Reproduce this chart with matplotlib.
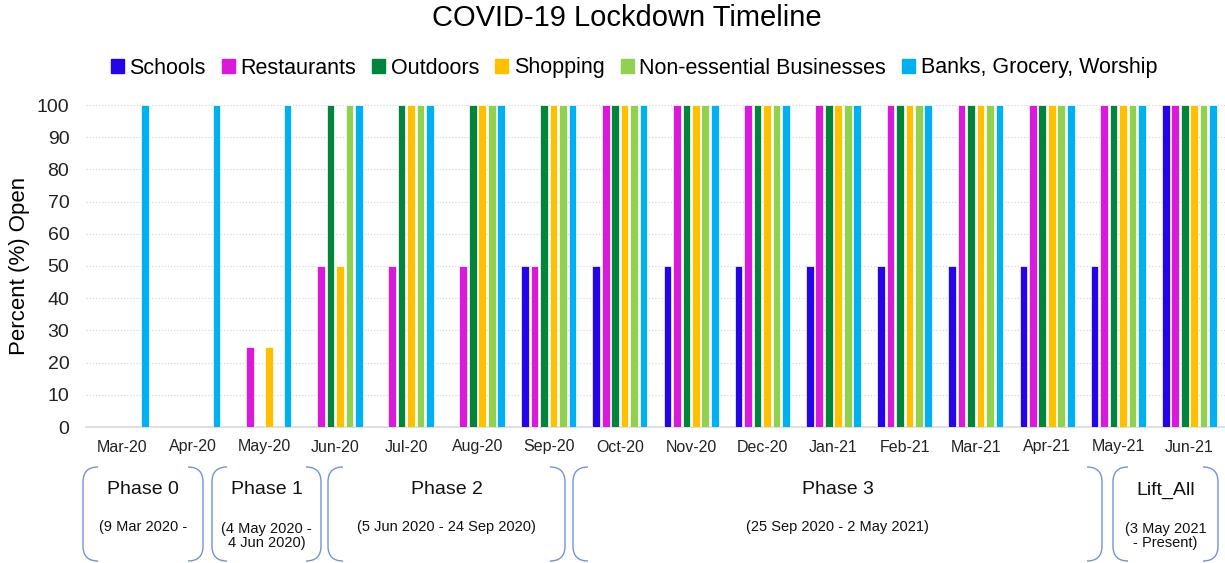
import matplotlib.pyplot as plt
import numpy as np
from matplotlib.path import Path
import matplotlib.patches as mpatches

plt.rcParams['font.family'] = ['Liberation Sans', 'DejaVu Sans']

months = ['Mar-20', 'Apr-20', 'May-20', 'Jun-20', 'Jul-20', 'Aug-20', 'Sep-20', 'Oct-20',
          'Nov-20', 'Dec-20', 'Jan-21', 'Feb-21', 'Mar-21', 'Apr-21', 'May-21', 'Jun-21']
schools     = [0, 0, 0, 0, 0, 0, 50, 50, 50, 50, 50, 50, 50, 50, 50, 100]
restaurants = [0, 0, 25, 50, 50, 50, 50, 100, 100, 100, 100, 100, 100, 100, 100, 100]
outdoors    = [0, 0, 0, 100, 100, 100, 100, 100, 100, 100, 100, 100, 100, 100, 100, 100]
shopping    = [0, 0, 25, 50, 100, 100, 100, 100, 100, 100, 100, 100, 100, 100, 100, 100]
nonessential = [0, 0, 0, 100, 100, 100, 100, 100, 100, 100, 100, 100, 100, 100, 100, 100]
banks       = [100, 100, 100, 100, 100, 100, 100, 100, 100, 100, 100, 100, 100, 100, 100, 100]

series = [schools, restaurants, outdoors, shopping, nonessential, banks]
labels = ['Schools', 'Restaurants', 'Outdoors', 'Shopping',
          'Non-essential Businesses', 'Banks, Grocery, Worship']
colors = ['#2405E8', '#DA1ADA', '#03843C', '#FFC000', '#92D050', '#00B0F0']

# phase boxes below the axis (pixel coords: left, right)
phase_names = ['Phase 0', 'Phase 1', 'Phase 2', 'Phase 3', 'Lift_All']
phase_dates = ['(9 Mar 2020 -', '(4 May 2020 -\n4 Jun 2020)', '(5 Jun 2020 - 24 Sep 2020)',
               '(25 Sep 2020 - 2 May 2021)', '(3 May 2021\n- Present)']
phase_px = [(83, 203), (212, 321), (328, 565), (573, 1102), (1113, 1218)]

W, H = 1225, 563
fig = plt.figure(figsize=(W / 100, H / 100), dpi=100)
ax = fig.add_axes([86 / W, 1 - 427 / H, (W - 86) / W, (427 - 105) / H])

x = np.arange(len(months))
pitch = 0.133
width = 0.108
for i, (vals, lab, col) in enumerate(zip(series, labels, colors)):
    ax.bar(x + (i - 2.5) * pitch, vals, width=width, color=col, label=lab,
           edgecolor='white', linewidth=0.5, zorder=3)

ax.set_xlim(-0.5, len(months) - 0.5)
ax.set_ylim(0, 100)
ax.set_yticks(range(0, 101, 10))
ax.set_xticks(x)
ax.set_xticklabels(months)
ax.tick_params(axis='y', length=0, pad=12, labelsize=14, labelcolor='#222222')
ax.tick_params(axis='x', length=0, pad=9, labelsize=11.5, labelcolor='#222222')
ax.yaxis.grid(True, linestyle=(0, (1, 1.5)), color='#D9D9D9', linewidth=0.9, zorder=0)
for s in ['left', 'top', 'right']:
    ax.spines[s].set_visible(False)
ax.spines['bottom'].set_color('#D9D9D9')
ax.spines['bottom'].set_linewidth(1.2)
ax.set_ylabel('Percent (%) Open', fontsize=16, labelpad=5)

fig.text(627 / W, 1 - 18 / H, 'COVID-19 Lockdown Timeline', fontsize=21,
         ha='center', va='center')
handles = [mpatches.Patch(color=c, label=l) for c, l in zip(colors, labels)]
fig.legend(handles=handles, loc='center', bbox_to_anchor=(634 / W, 1 - 68 / H),
           ncol=6, frameon=False, fontsize=15.5, handlelength=0.6, handleheight=0.6,
           handletextpad=0.25, columnspacing=0.76, borderaxespad=0, borderpad=0)

# overlay in pixel coordinates for the phase brackets
ov = fig.add_axes([0, 0, 1, 1])
ov.set_xlim(0, W)
ov.set_ylim(H, 0)
ov.axis('off')
top, bot, r = 467, 561, 15
for (x0, x1), name, dates in zip(phase_px, phase_names, phase_dates):
    for xe, d in ((x0, 1), (x1, -1)):
        verts = [(xe + d * r, top), (xe, top), (xe, top + r), (xe, bot - r),
                 (xe, bot), (xe + d * r, bot)]
        codes = [Path.MOVETO, Path.CURVE3, Path.CURVE3, Path.LINETO, Path.CURVE3, Path.CURVE3]
        ov.add_patch(mpatches.PathPatch(Path(verts, codes), fill=False,
                                        edgecolor='#7393D8', linewidth=1.0))
    cx = (x0 + x1) / 2
    ov.text(cx, 490, name, fontsize=14, ha='center', va='center', color='#111111')
    ov.text(cx, 527 if '\n' not in dates else 536, dates, fontsize=10.5,
            ha='center', va='center', color='#111111', linespacing=1.0)

fig.savefig('out.png', dpi=100)
